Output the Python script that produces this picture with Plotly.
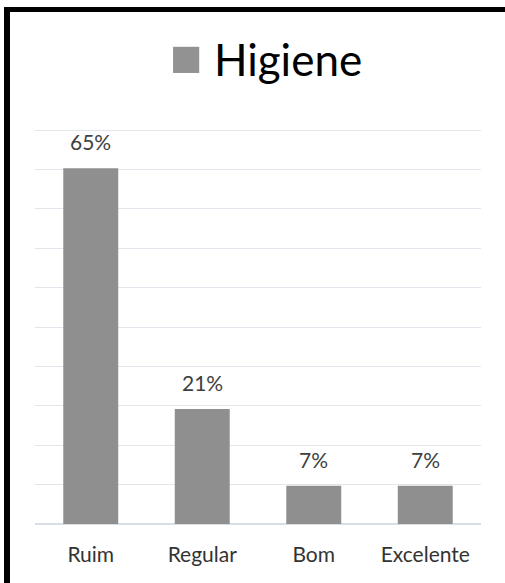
import plotly.graph_objects as go

categories = ["Ruim", "Regular", "Bom", "Excelente"]
values = [65, 21, 7, 7]
labels = ["65%", "21%", "7%", "7%"]
series_name = "Higiene"

W, H = 505, 583
ml, mr, mt, mb = 35, 24, 127, 59
pw, ph = W - ml - mr, H - mt - mb

def px_x(p):
    return (p - ml) / pw

def px_y(p):
    return (H - mb - p) / ph

fig = go.Figure()
fig.add_trace(go.Bar(
    x=categories, y=values, name=series_name,
    marker=dict(color="#8f8f8f", line=dict(width=0)),
    showlegend=False, hoverinfo="skip",
))

annotations = []
for c, v, t in zip(categories, values, labels):
    annotations.append(dict(
        x=c, y=v, xref="x", yref="y", text=t, showarrow=False,
        yanchor="bottom", yshift=12,
        font=dict(family="Lato", size=21, color="#404040"),
    ))

annotations.append(dict(
    x=px_x(266), y=px_y(56), xref="paper", yref="paper",
    xanchor="center", yanchor="middle", showarrow=False,
    text='<span style="color:#929292;font-size:54px">■</span> ' + series_name,
    font=dict(family="Lato", size=44, color="#000000"),
))

shapes = [
    dict(type="line", xref="paper", yref="paper",
         x0=px_x(7), x1=px_x(7), y0=px_y(600), y1=px_y(7),
         line=dict(color="black", width=6)),
    dict(type="line", xref="paper", yref="paper",
         x0=px_x(4), x1=px_x(520), y0=px_y(9.5), y1=px_y(9.5),
         line=dict(color="black", width=5)),
]

fig.update_layout(
    width=W, height=H,
    margin=dict(l=ml, r=mr, t=mt, b=mb, pad=0),
    paper_bgcolor="white", plot_bgcolor="white",
    bargap=0.507,
    annotations=annotations, shapes=shapes,
    font=dict(family="Lato", color="#404040"),
)
fig.update_xaxes(
    showgrid=False, showline=False, zeroline=False, ticks="",
    ticklabelstandoff=16,
    tickfont=dict(family="Lato", size=21, color="#333333"),
)
fig.update_yaxes(
    range=[0, 72.55], tick0=0, dtick=7.2, showticklabels=False,
    showgrid=True, gridcolor="#e1e5ec", gridwidth=1,
    zeroline=True, zerolinecolor="#d9dde4", zerolinewidth=1.5,
    showline=False, ticks="",
)

fig.write_html("out.html")
